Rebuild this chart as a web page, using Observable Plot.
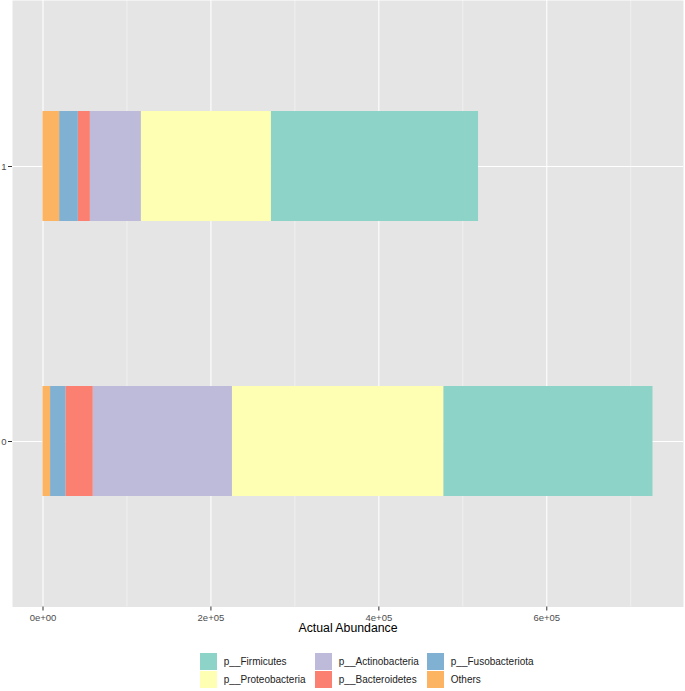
<!DOCTYPE html>
<html>
<head>
<meta charset="utf-8">
<script src="https://cdn.jsdelivr.net/npm/d3@7"></script>
<script src="https://cdn.jsdelivr.net/npm/@observablehq/plot@0.6"></script>
<style>
  html, body { margin: 0; padding: 0; background: #ffffff; }
  #wrap { width: 685px; font-family: "Liberation Sans", Arial, Helvetica, sans-serif; }
  #legend { position: relative; width: 685px; height: 51px; }
  .item { position: absolute; display: flex; align-items: center; height: 17.3px; font-size: 10px; color: #222; }
  .key { width: 17.3px; height: 17.3px; margin-right: 6.5px; }
</style>
</head>
<body>
<div id="wrap"></div>
<script>
// ---- data ----
const groups = ["1", "0"];
const phyla = ["p__Firmicutes", "p__Proteobacteria", "p__Actinobacteria", "p__Bacteroidetes", "p__Fusobacteriota", "Others"];
const abundance0 = [249200, 251700, 165800, 32500, 18300, 9000];
const abundance1 = [246800, 154800, 60700, 14300, 22300, 19800];
const colors = ["#8DD3C7", "#FFFFB3", "#BEBADA", "#FB8072", "#80B1D3", "#FDB462"];
const majorTicks = [0, 200000, 400000, 600000];
const minorTicks = [100000, 300000, 500000, 700000];
const xTickLabels = ["0e+00", "2e+05", "4e+05", "6e+05"];
const xTitle = "Actual Abundance";

// ---- table ----
const rows = [];
phyla.forEach((p, i) => {
  rows.push({group: "0", phylum: p, value: abundance0[i]});
  rows.push({group: "1", phylum: p, value: abundance1[i]});
});
const totals = [d3.sum(abundance0), d3.sum(abundance1)];
const maxTotal = d3.max(totals);
const stackOrder = [...phyla].reverse();

const chart = Plot.plot({
  width: 685,
  height: 640,
  marginLeft: 12,
  marginRight: 2,
  marginTop: 0,
  marginBottom: 33.5,
  style: {fontFamily: '"Liberation Sans", Arial, Helvetica, sans-serif', background: "white"},
  x: {domain: [-0.05 * maxTotal, 1.05 * maxTotal], axis: null},
  y: {type: "band", domain: groups, paddingInner: 0.6, paddingOuter: 0.4018, axis: null},
  color: {domain: phyla, range: colors},
  marks: [
    Plot.frame({fill: "#e5e5e5", stroke: "none"}),
    Plot.gridX({ticks: minorTicks, stroke: "white", strokeOpacity: 0.8, strokeWidth: 0.55}),
    Plot.gridX({ticks: majorTicks, stroke: "white", strokeOpacity: 1, strokeWidth: 1.1}),
    Plot.gridY({stroke: "white", strokeOpacity: 1, strokeWidth: 1.1}),
    Plot.barX(rows, Plot.stackX({x: "value", y: "group", fill: "phylum", order: stackOrder, inset: 0})),
    Plot.axisX({ticks: majorTicks, tickFormat: (d, i) => xTickLabels[i], tickSize: 4, tickPadding: 3,
                stroke: "#333", fill: "#4d4d4d", fontSize: 9.5, label: null}),
    Plot.axisY({tickSize: 4, tickPadding: 2, stroke: "#333", fill: "#4d4d4d", fontSize: 9.5, label: null}),
    Plot.text([xTitle], {frameAnchor: "bottom", dy: 21.5, lineAnchor: "middle", fontSize: 12.3, fill: "black"})
  ]
});
document.getElementById("wrap").appendChild(chart);

// ---- legend ----
const legend = document.createElement("div");
legend.id = "legend";
const colX = [200, 315, 427];
phyla.forEach((p, i) => {
  const col = Math.floor(i / 2), row = i % 2;
  const item = document.createElement("div");
  item.className = "item";
  item.style.left = colX[col] + "px";
  item.style.top = (12.7 + row * 17.8) + "px";
  const key = document.createElement("div");
  key.className = "key";
  key.style.background = colors[i];
  const label = document.createElement("span");
  label.textContent = p;
  item.appendChild(key);
  item.appendChild(label);
  legend.appendChild(item);
});
document.getElementById("wrap").appendChild(legend);
</script>
</body>
</html>
